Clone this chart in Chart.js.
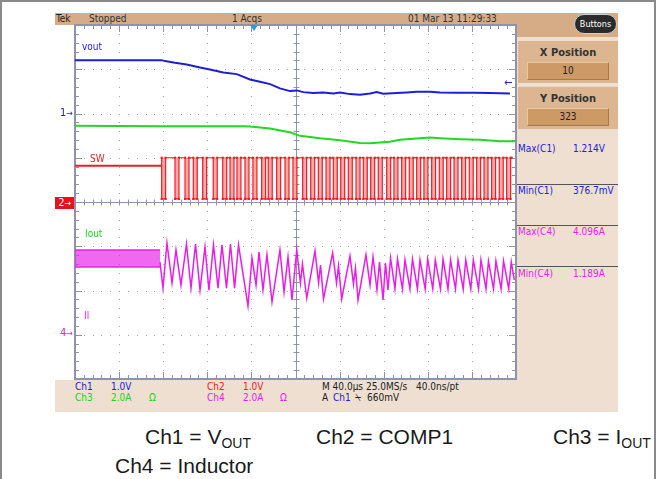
<!DOCTYPE html>
<html>
<head>
<meta charset="utf-8">
<title>Scope capture</title>
<script src="https://cdn.jsdelivr.net/npm/chart.js@4.4.1/dist/chart.umd.min.js"></script>
<style>
  html, body { margin: 0; padding: 0; background: #fff; }
  #page { position: relative; width: 657px; height: 479px; overflow: hidden; background: #fff;
          font-family: "Liberation Sans Narrow", "DejaVu Sans Condensed", "Liberation Sans", Arial, sans-serif; }
  .a { position: absolute; white-space: nowrap; line-height: 1; }
  .tan { background: #d5ac85; }
  .panel { background: #eedfd0; }
  .box { background: #dcb591; border-top: 1px solid #f0dcc4; }
  .field { background: #cd9a66; border: 1px solid #e9c9a2; border-right-color: #a8774a; border-bottom-color: #a8774a;
           text-align: center; font-size: 10px; line-height: 16px; color: #222; }
  .blue { color: #2020e0; } .red { color: #ee1c24; } .green { color: #22d022; } .mag { color: #e81ee8; }
  .cap { font-family: "Liberation Sans", Arial, sans-serif; font-size: 21px; color: #1a1a1a; }
  .cap sub { font-size: 14px; vertical-align: -4px; line-height: 0; }
</style>
</head>
<body>
<div id="page">
  <!-- outer frame -->
  <div class="a" style="left:0;top:0;width:652px;height:479px;border-top:2px solid #8a8a8a;border-left:2px solid #8a8a8a;border-right:2px solid #8a8a8a;"></div>

  <!-- header -->
  <div class="a tan" style="left:55px;top:13px;width:562px;height:12px;"></div>
  <div class="a tan" style="left:517px;top:13px;width:101px;height:24px;"></div>
  <div class="a" style="left:56px;top:14px;font-size:10px;color:#222;">Tek</div>
  <div class="a" style="left:89px;top:14px;font-size:10px;color:#333;">Stopped</div>
  <div class="a" style="left:232px;top:14px;font-size:10px;color:#333;">1 Acqs</div>
  <div class="a" style="left:408px;top:14px;font-size:10px;color:#333;">01 Mar 13 11:29:33</div>
  <div class="a" style="left:574px;top:14px;width:41px;height:18px;border-radius:10px;background:#2b2b2b;border:1px solid #cfcfcf;color:#fff;font-size:9px;line-height:18px;text-align:center;">Buttons</div>

  <canvas id="scope" width="451" height="364" style="position:absolute;left:70px;top:20px;"></canvas>

  <!-- right panel -->
  <div class="a panel" style="left:517px;top:37px;width:101px;height:375px;"></div>
  <div class="a box" style="left:518px;top:40px;width:100px;height:42px;"></div>
  <div class="a" style="left:518px;top:47px;width:100px;text-align:center;font-size:11px;font-weight:bold;color:#333;">X Position</div>
  <div class="a field" style="left:527px;top:62px;width:80px;height:16px;">10</div>
  <div class="a box" style="left:518px;top:86px;width:100px;height:42px;"></div>
  <div class="a" style="left:518px;top:93px;width:100px;text-align:center;font-size:11px;font-weight:bold;color:#333;">Y Position</div>
  <div class="a field" style="left:527px;top:108px;width:80px;height:16px;">323</div>

  <div class="a blue" style="left:518px;top:144px;font-size:10px;">Max(C1)</div>
  <div class="a blue" style="left:573px;top:144px;font-size:10px;">1.214V</div>
  <div class="a" style="left:517px;top:184px;width:101px;height:1px;background:#555;"></div>
  <div class="a blue" style="left:518px;top:186px;font-size:10px;">Min(C1)</div>
  <div class="a blue" style="left:573px;top:186px;font-size:10px;">376.7mV</div>
  <div class="a" style="left:517px;top:225px;width:101px;height:1px;background:#555;"></div>
  <div class="a mag" style="left:518px;top:227px;font-size:10px;">Max(C4)</div>
  <div class="a mag" style="left:573px;top:227px;font-size:10px;">4.096A</div>
  <div class="a" style="left:517px;top:266px;width:101px;height:1px;background:#555;"></div>
  <div class="a mag" style="left:518px;top:269px;font-size:10px;">Min(C4)</div>
  <div class="a mag" style="left:573px;top:269px;font-size:10px;">1.189A</div>

  <!-- status bar -->
  <div class="a panel" style="left:55px;top:380px;width:563px;height:32px;"></div>
  <div class="a blue" style="left:75px;top:382px;font-size:10px;">Ch1</div>
  <div class="a blue" style="left:111px;top:382px;font-size:10px;">1.0V</div>
  <div class="a red" style="left:207px;top:382px;font-size:10px;">Ch2</div>
  <div class="a red" style="left:243px;top:382px;font-size:10px;">1.0V</div>
  <div class="a" style="left:322px;top:382px;font-size:10px;color:#222;">M 40.0µs 25.0MS/s</div>
  <div class="a" style="left:416px;top:382px;font-size:10px;color:#222;">40.0ns/pt</div>
  <div class="a green" style="left:75px;top:393px;font-size:10px;">Ch3</div>
  <div class="a green" style="left:111px;top:393px;font-size:10px;">2.0A</div>
  <div class="a green" style="left:149px;top:393px;font-size:10px;">Ω</div>
  <div class="a mag" style="left:207px;top:393px;font-size:10px;">Ch4</div>
  <div class="a mag" style="left:243px;top:393px;font-size:10px;">2.0A</div>
  <div class="a mag" style="left:280px;top:393px;font-size:10px;">Ω</div>
  <div class="a" style="left:322px;top:393px;font-size:10px;color:#222;">A</div>
  <div class="a blue" style="left:333px;top:393px;font-size:10px;">Ch1</div>
  <div class="a" style="left:355px;top:393px;font-size:10px;color:#222;">⍀</div>
  <div class="a" style="left:367px;top:393px;font-size:10px;color:#222;">660mV</div>

  <!-- channel markers and trace labels -->
  <div class="a blue" style="left:60px;top:107px;font-size:11px;">1<span style="font-size:9px">→</span></div>
  <div class="a" style="left:55px;top:197px;width:19px;height:12px;background:#e8101a;color:#fff;font-size:11px;line-height:12px;">&nbsp;2<span style="font-size:9px">→</span></div>
  <div class="a mag" style="left:60px;top:327px;font-size:11px;">4<span style="font-size:9px">→</span></div>
  <div class="a" style="left:250px;top:25px;width:0;height:0;border-left:4px solid transparent;border-right:4px solid transparent;border-top:6px solid #2e9be0;"></div>
  <div class="a blue" style="left:504px;top:77px;font-size:11px;">←</div>
  <div class="a blue" style="left:82px;top:42px;font-size:10px;">vout</div>
  <div class="a red" style="left:90px;top:154px;font-size:10px;">SW</div>
  <div class="a green" style="left:85px;top:229px;font-size:10px;">Iout</div>
  <div class="a mag" style="left:84px;top:311px;font-size:10px;">Il</div>

  <!-- caption -->
  <div class="a cap" style="left:145px;top:426px;">Ch1 = V<sub>OUT</sub></div>
  <div class="a cap" style="left:316px;top:426px;">Ch2 = COMP1</div>
  <div class="a cap" style="left:553px;top:426px;">Ch3 = I<sub>OUT</sub></div>
  <div class="a cap" style="left:115px;top:455px;">Ch4 = Inductor</div>
</div>

<script>
// time base: 40 us/div, 10 divisions
const timeMin = 0, timeMax = 400;

// Ch1 output voltage (V)
const vOutT = [0, 78.6, 81.6, 90.7, 101.3, 113.4, 122.4, 134.5, 146.7, 158.7, 167.8, 176.9, 185.9, 195, 201.1, 207.1, 216.1, 225.2, 234.3, 240.4, 249.4, 258.5, 267.6, 273.6, 279.6, 291.8, 300.9, 309.9, 322, 331.1, 346.2, 361.3, 376.4, 394.5];
const vOutV = [1.186, 1.186, 1.164, 1.125, 1.089, 1.021, 0.976, 0.908, 0.870, 0.750, 0.696, 0.644, 0.547, 0.486, 0.502, 0.463, 0.441, 0.456, 0.434, 0.456, 0.418, 0.402, 0.434, 0.463, 0.425, 0.441, 0.456, 0.470, 0.470, 0.456, 0.447, 0.447, 0.441, 0.434];

// Ch3 output current (A)
const iOutT = [0, 78.9, 154.2, 158.7, 176.9, 188.7, 195, 204.1, 222.2, 240.4, 258.5, 267.6, 276.7, 285.7, 294.8, 312.9, 322, 331.1, 349.2, 367.4, 385.5, 399];
const iOutA = [3.49, 3.46, 3.46, 3.45, 3.36, 3.25, 3.19, 3.03, 2.92, 2.83, 2.71, 2.70, 2.73, 2.76, 2.85, 2.92, 2.95, 2.92, 2.88, 2.85, 2.79, 2.79];

// Ch2 switch node (V): level before switching, high / low levels, low-pulse start times (us)
const swIdleV = 0.84, swHighV = 1.02, swLowV = 0.09, swLowWidth = 3.6, swEnd = 396;
const swLowStarts = [78.6, 90.7, 99.8, 107.3, 115.8, 125.4, 134, 140.6, 146.9, 154.2, 161.4, 169.3, 175.3, 182.9, 190.5, 197.7, 206.5, 213.8, 220.7, 227.7, 234.3, 241, 247.9, 254.9, 261.5, 268.2, 275.1, 282.7, 289.3, 296.3, 303.2, 309.9, 316.5, 323.5, 330.4, 337.1, 343.8, 350.7, 357.6, 364.3, 371, 377.9, 384.8, 391.5];

// Ch4 inductor current (A): ripple band before the step, then peak/valley points
const ilBandT = [0, 77.1];
const ilBandHi = [3.75, 3.75];
const ilBandLo = [2.98, 2.98];
const ilT = [77.1, 79.8, 83.4, 88, 91.6, 96.1, 101.1, 105.2, 109.3, 113.4, 117.9, 121.5, 125.6, 129.7, 133.3, 137.4, 141, 144.7, 148.3, 156.9, 160.5, 164.2, 166.9, 170.5, 174.1, 178.7, 185.9, 189.6, 193.2, 196.8, 201.1, 204.5, 206.3, 210.2, 217.7, 220.9, 222.7, 225.4, 233.7, 237.2, 239, 241.9, 249.4, 252.6, 254.4, 256.7, 263.9, 267.6, 270.3, 273.9, 276.2, 279.4, 281.6, 283.9, 286.2, 290.2, 292.5, 297, 299.3, 303.8, 306.1, 310.6, 312.9, 317.6, 319.9, 324.5, 326.8, 331.5, 333.8, 338.3, 340.6, 345.1, 347.4, 352.1, 354.4, 359, 361.3, 366, 368.2, 372.8, 375, 379.6, 381.8, 386.5, 388.7, 393.4, 395.7, 398.5];
const ilA = [3.2, 2.03, 4.07, 2.26, 3.75, 2.17, 4.02, 2.03, 4.02, 1.94, 3.89, 1.94, 3.98, 2.03, 3.98, 2.03, 4.02, 2.03, 3.98, 1.22, 3.39, 2.17, 3.66, 1.94, 3.53, 1.40, 3.75, 1.85, 3.44, 1.49, 3.75, 2.26, 3.12, 1.58, 3.71, 2.26, 3.07, 1.54, 3.62, 2.26, 3.03, 1.54, 3.48, 2.21, 2.94, 1.49, 3.53, 2.17, 3.44, 1.94, 3.21, 1.49, 3.16, 1.94, 3.39, 1.99, 3.34, 1.99, 3.30, 1.99, 3.34, 1.99, 3.30, 1.99, 3.34, 1.99, 3.30, 1.99, 3.34, 1.99, 3.30, 1.99, 3.30, 1.99, 3.30, 1.99, 3.30, 1.99, 3.30, 1.99, 3.25, 1.99, 3.25, 1.99, 3.25, 1.99, 3.21, 2.40];

// per-channel vertical setup: units per division and ground marker position in divisions from centre
const channels = {
  y1: { perDiv: 1.0, groundDiv: 2.02 },
  y2: { perDiv: 1.0, groundDiv: -0.02 },
  y3: { perDiv: 2.0, groundDiv: -0.02 },
  y4: { perDiv: 2.0, groundDiv: -2.96 },
};

const pts = (xs, ys) => xs.map((x, i) => ({ x: x, y: ys[i] }));

const swPoints = [];
swLowStarts.forEach((s) => {
  swPoints.push({ x: s, y: swHighV }, { x: s, y: swLowV }, { x: s + swLowWidth, y: swLowV }, { x: s + swLowWidth, y: swHighV });
});
swPoints.push({ x: swEnd, y: swHighV });
// pink persistence inside each low pulse, as floating bars
const swShade = swLowStarts.map((s) => ({ x: s + swLowWidth / 2, y: [swLowV, swHighV] }));

const scaleFor = (c) => ({
  type: 'linear', display: false,
  min: (-4 - c.groundDiv) * c.perDiv,
  max: (4 - c.groundDiv) * c.perDiv,
});

// Tek style graticule: dotted divisions, centre cross and border rulers
const graticule = {
  id: 'graticule',
  beforeDatasetsDraw(chart) {
    const { ctx, chartArea: a } = chart;
    const dx = (a.right - a.left) / 10, dy = (a.bottom - a.top) / 8;
    ctx.save();
    ctx.fillStyle = '#a4a4a4';
    for (let i = 1; i < 10; i++) {
      if (i === 5) continue;
      const x = Math.round(a.left + i * dx);
      for (let k = 1; k < 40; k++) ctx.fillRect(x, Math.round(a.top + k * dy / 5), 1, 1);
    }
    for (let j = 1; j < 8; j++) {
      if (j === 4) continue;
      const y = Math.round(a.top + j * dy);
      for (let k = 1; k < 50; k++) ctx.fillRect(Math.round(a.left + k * dx / 5), y, 1, 1);
    }
    ctx.strokeStyle = '#8d93ad';
    ctx.lineWidth = 1;
    const cx = Math.round(a.left + 5 * dx) + 0.5, cy = Math.round(a.top + 4 * dy) + 0.5;
    ctx.beginPath();
    ctx.moveTo(a.left, cy); ctx.lineTo(a.right, cy);
    ctx.moveTo(cx, a.top); ctx.lineTo(cx, a.bottom);
    for (let k = 1; k < 50; k++) {
      const x = Math.round(a.left + k * dx / 5) + 0.5;
      ctx.moveTo(x, cy - 3); ctx.lineTo(x, cy + 3);
      const len = k % 5 === 0 ? 7 : 4;
      ctx.moveTo(x, a.top); ctx.lineTo(x, a.top + len);
      ctx.moveTo(x, a.bottom); ctx.lineTo(x, a.bottom - len);
    }
    for (let k = 1; k < 40; k++) {
      const y = Math.round(a.top + k * dy / 5) + 0.5;
      ctx.moveTo(cx - 3, y); ctx.lineTo(cx + 3, y);
      const len = k % 5 === 0 ? 7 : 4;
      ctx.moveTo(a.left, y); ctx.lineTo(a.left + len, y);
      ctx.moveTo(a.right, y); ctx.lineTo(a.right - len, y);
    }
    ctx.stroke();
    ctx.lineWidth = 2;
    ctx.strokeRect(a.left, a.top, a.right - a.left, a.bottom - a.top);
    ctx.restore();
  },
};

const line = (extra) => Object.assign({ type: 'line', pointRadius: 0, tension: 0, fill: false, borderWidth: 2, xAxisID: 'x', order: 1 }, extra);

new Chart(document.getElementById('scope'), {
  type: 'line',
  data: {
    datasets: [
      { type: 'bar', label: 'Ch2 persistence', data: swShade, yAxisID: 'y2', xAxisID: 'x', order: 5,
        backgroundColor: 'rgba(246, 160, 160, 0.9)', borderWidth: 0, barThickness: 3, grouped: false },
      line({ label: 'Il band top', data: pts(ilBandT, ilBandHi), yAxisID: 'y4', borderColor: '#e81ee8', borderWidth: 1.5,
             fill: '+1', backgroundColor: 'rgba(232, 40, 232, 0.7)' }),
      line({ label: 'Il band bottom', data: pts(ilBandT, ilBandLo), yAxisID: 'y4', borderColor: '#e81ee8', borderWidth: 1.5 }),
      line({ label: 'Ch4 Inductor', data: pts(ilT, ilA), yAxisID: 'y4', borderColor: '#e81ee8', borderWidth: 1.5 }),
      line({ label: 'Ch2 idle', data: pts([timeMin, swLowStarts[0]], [swIdleV, swIdleV]), yAxisID: 'y2', borderColor: '#ee1c24' }),
      line({ label: 'Ch2 COMP1', data: swPoints, yAxisID: 'y2', borderColor: '#ee1c24', borderWidth: 1.2,
             pointRadius: 1.5, pointStyle: 'rect', pointBackgroundColor: '#ee1c24', pointBorderWidth: 0 }),
      line({ label: 'Ch3 Iout', data: pts(iOutT, iOutA), yAxisID: 'y3', borderColor: '#22d822' }),
      line({ label: 'Ch1 Vout', data: pts(vOutT, vOutV), yAxisID: 'y1', borderColor: '#1e1ed8' }),
    ],
  },
  options: {
    responsive: false,
    animation: false,
    events: [],
    layout: { padding: 5 },
    plugins: { legend: { display: false }, tooltip: { enabled: false } },
    scales: {
      x: { type: 'linear', display: false, min: timeMin, max: timeMax, offset: false },
      y1: scaleFor(channels.y1),
      y2: scaleFor(channels.y2),
      y3: scaleFor(channels.y3),
      y4: scaleFor(channels.y4),
    },
  },
  plugins: [graticule],
});
</script>
</body>
</html>
